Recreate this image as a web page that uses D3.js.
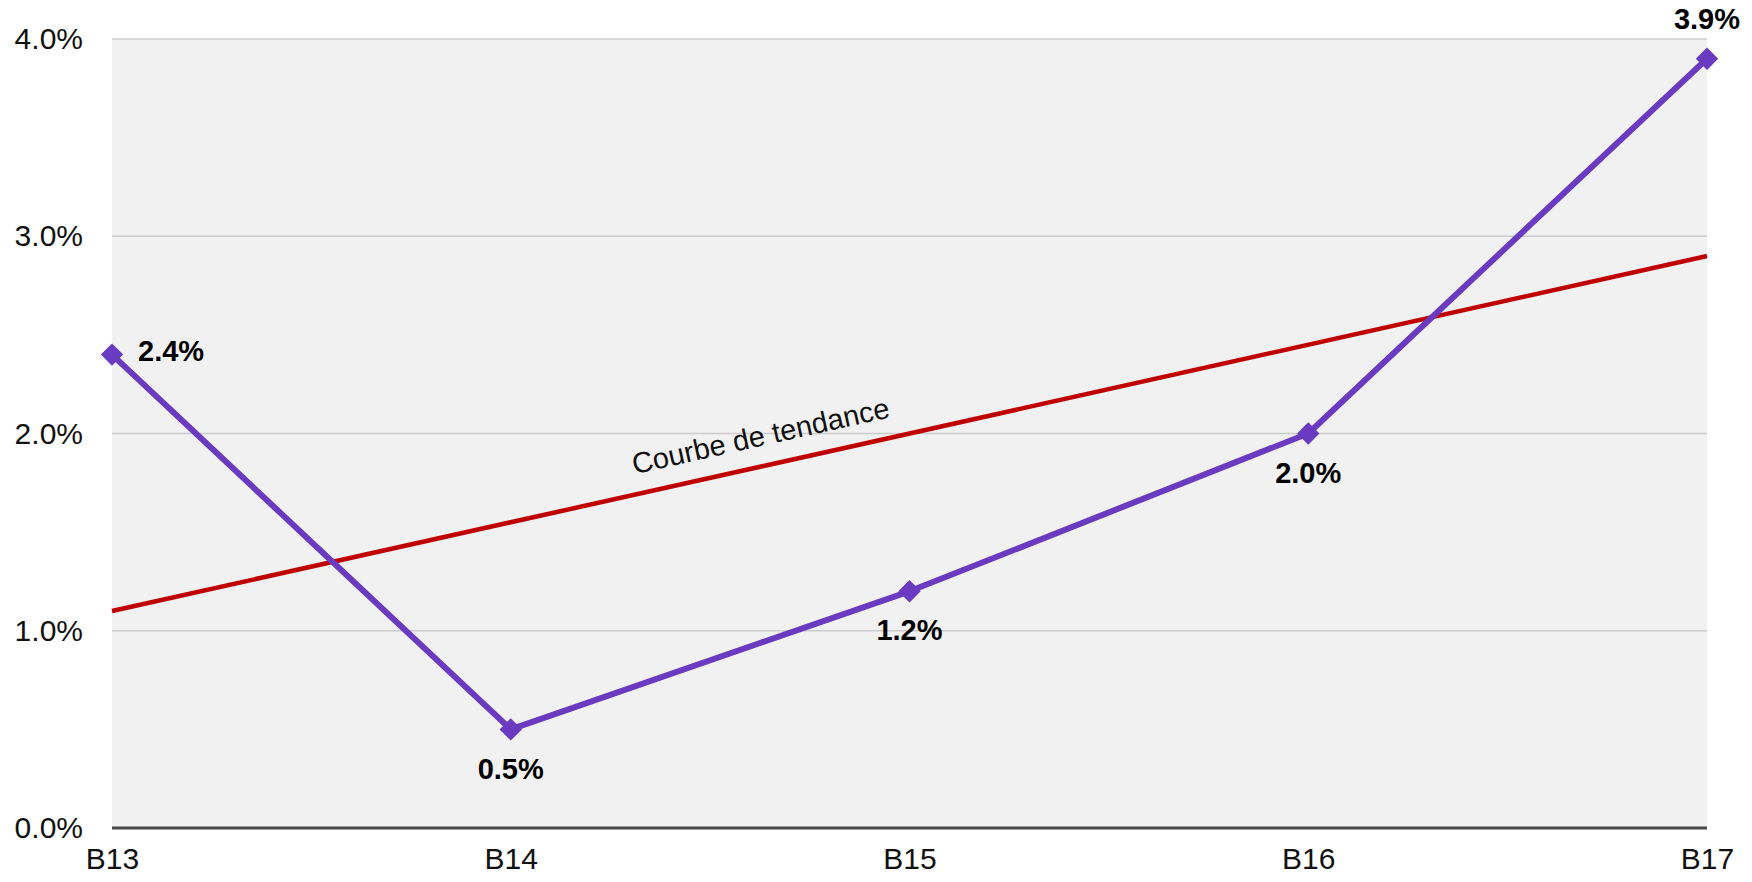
<!DOCTYPE html>
<html>
<head>
<meta charset="utf-8">
<script src="https://cdnjs.cloudflare.com/ajax/libs/d3/7.8.5/d3.min.js"></script>
<style>
    body { margin: 0; background: #fff; }
    svg text { font-family: "Liberation Sans", Arial, sans-serif; }
</style>
</head>
<body>
<svg id="chart"></svg>
<script>
// chart data
var categories = ["B13", "B14", "B15", "B16", "B17"];
var values = [2.4, 0.5, 1.2, 2.0, 3.9];
var yTicks = [0, 1, 2, 3, 4];
// where each value label sits relative to its point
var labelPos = ["right", "below", "below", "below", "above"];
var trendLabel = "Courbe de tendance";

var width = 1752,
    height = 882;
var margin = {top: 39, right: 45, bottom: 54, left: 112};

var svg = d3.select("#chart")
    .attr("width", width)
    .attr("height", height);

var x = d3.scalePoint()
    .domain(categories)
    .range([margin.left, width - margin.right]);

var y = d3.scaleLinear()
    .domain([0, 4])
    .range([height - margin.bottom, margin.top]);

// plot background
svg.append("rect")
    .attr("x", x.range()[0])
    .attr("y", y(4))
    .attr("width", x.range()[1] - x.range()[0])
    .attr("height", y(0) - y(4))
    .attr("fill", "#f1f1f1");

// grid lines
svg.append("g")
    .selectAll("line")
    .data(yTicks.filter(function (d) { return d > 0; }))
    .enter().append("line")
    .attr("x1", x.range()[0])
    .attr("x2", x.range()[1])
    .attr("y1", function (d) { return y(d); })
    .attr("y2", function (d) { return y(d); })
    .attr("stroke", "#cccccc")
    .attr("stroke-width", 1.5);

// y axis labels
var yAxis = d3.axisLeft(y)
    .tickValues(yTicks)
    .tickFormat(function (d) { return d.toFixed(1) + "%"; })
    .tickSize(0)
    .tickPadding(29);
var gy = svg.append("g")
    .attr("transform", "translate(" + margin.left + ",0)")
    .call(yAxis);
gy.select(".domain").remove();
gy.selectAll("text")
    .attr("font-size", 30)
    .attr("fill", "#111");

// x axis labels
var xAxis = d3.axisBottom(x).tickSize(0).tickPadding(20);
var gx = svg.append("g")
    .attr("transform", "translate(0," + y(0) + ")")
    .call(xAxis);
gx.select(".domain").remove();
gx.selectAll("text")
    .attr("font-size", 30)
    .attr("fill", "#111");

// baseline
svg.append("line")
    .attr("x1", x.range()[0])
    .attr("x2", x.range()[1])
    .attr("y1", y(0))
    .attr("y2", y(0))
    .attr("stroke", "#4a4a4a")
    .attr("stroke-width", 3);

// linear trend (least squares) from the series
var n = values.length,
    mx = d3.mean(values, function (d, i) { return i; }),
    my = d3.mean(values);
var slope = d3.sum(values, function (d, i) { return (i - mx) * (d - my); }) /
    d3.sum(values, function (d, i) { return (i - mx) * (i - mx); });
var intercept = my - slope * mx;
var trend = [0, n - 1].map(function (i) {
    return [x(categories[i]), y(intercept + slope * i)];
});

svg.append("line")
    .attr("x1", trend[0][0]).attr("y1", trend[0][1])
    .attr("x2", trend[1][0]).attr("y2", trend[1][1])
    .attr("stroke", "#c00000")
    .attr("stroke-width", 4.5);

// trend label, along the line
var angle = Math.atan2(trend[1][1] - trend[0][1], trend[1][0] - trend[0][0]) * 180 / Math.PI;
var tx = 767,
    ty = trend[0][1] + (tx - trend[0][0]) * (trend[1][1] - trend[0][1]) / (trend[1][0] - trend[0][0]);
svg.append("text")
    .attr("transform", "translate(" + tx + "," + ty + ") rotate(" + angle + ") translate(0,-20)")
    .attr("text-anchor", "middle")
    .attr("font-size", 29)
    .attr("fill", "#111")
    .text(trendLabel);

// series line
var line = d3.line()
    .x(function (d, i) { return x(categories[i]); })
    .y(function (d) { return y(d); });

svg.append("path")
    .datum(values)
    .attr("d", line)
    .attr("fill", "none")
    .attr("stroke", "#6a3ac0")
    .attr("stroke-width", 6)
    .attr("stroke-linejoin", "round");

// markers
svg.append("g")
    .selectAll("path")
    .data(values)
    .enter().append("path")
    .attr("d", d3.symbol().type(d3.symbolDiamond2).size(320))
    .attr("transform", function (d, i) { return "translate(" + x(categories[i]) + "," + y(d) + ")"; })
    .attr("fill", "#6a3ac0");

// value labels
svg.append("g")
    .selectAll("text")
    .data(values)
    .enter().append("text")
    .attr("x", function (d, i) {
        return labelPos[i] === "right" ? x(categories[i]) + 26 : x(categories[i]);
    })
    .attr("y", function (d, i) {
        var p = labelPos[i];
        if (p === "right") return y(d) - 4;
        if (p === "above") return y(d) - 40;
        return y(d) + 39;
    })
    .attr("dy", "0.35em")
    .attr("text-anchor", function (d, i) { return labelPos[i] === "right" ? "start" : "middle"; })
    .attr("font-size", 29)
    .attr("font-weight", "bold")
    .attr("fill", "#000")
    .text(function (d) { return d.toFixed(1) + "%"; });
</script>
</body>
</html>
